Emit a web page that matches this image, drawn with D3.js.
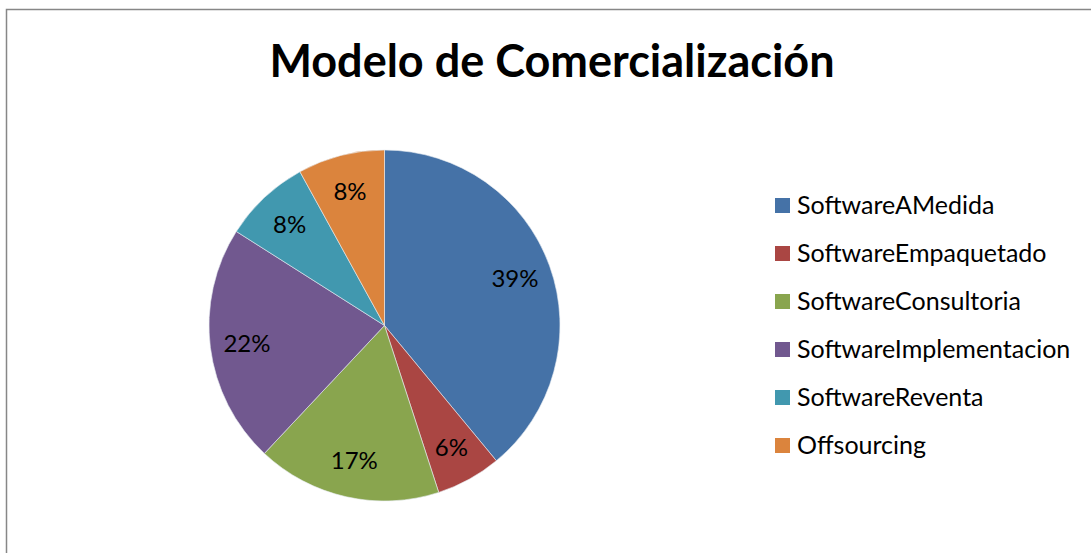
<!DOCTYPE html>
<html>
<head>
    <title>Modelo de Comercialización</title>
    <script src="https://d3js.org/d3.v7.min.js"></script>
    <style>
        html, body {
            margin: 0;
            padding: 0;
            background: #ffffff;
        }
        body {
            width: 1091px;
            height: 553px;
            overflow: hidden;
        }
        text {
            font-family: Lato, "Open Sans", sans-serif;
        }
    </style>
</head>
<body>
<div id="chart"></div>
<script>
    // chart data
    const categories = ['SoftwareAMedida', 'SoftwareEmpaquetado', 'SoftwareConsultoria',
                        'SoftwareImplementacion', 'SoftwareReventa', 'Offsourcing'];
    const percents = [39, 6, 17, 22, 8, 8];
    const colors = ['#4572A7', '#AA4643', '#89A54E', '#71588F', '#4198AF', '#DB843D'];
    const chartTitle = 'Modelo de Comercialización';

    const width = 1091;
    const height = 553;

    const svg = d3.select('#chart')
        .append('svg')
        .attr('width', width)
        .attr('height', height);

    // chart frame (only top and left edges are inside the picture)
    svg.append('path')
        .attr('d', `M6.5,${height} L6.5,9.5 L${width},9.5`)
        .attr('fill', 'none')
        .attr('stroke', '#878787')
        .attr('stroke-width', 1.5);

    svg.append('text')
        .text(chartTitle)
        .attr('x', 552)
        .attr('y', 77)
        .attr('text-anchor', 'middle')
        .style('font-size', '45px')
        .style('font-weight', 'bold')
        .attr('fill', '#000');

    // pie
    const cx = 384.5, cy = 325.5, radius = 175.5;
    const color = d3.scaleOrdinal().domain(categories).range(colors);

    const pie = d3.pie()
        .value(d => d.value)
        .sort(null);

    const data = categories.map((c, i) => ({ name: c, value: percents[i] }));
    const arcs = pie(data);

    const arc = d3.arc().innerRadius(0).outerRadius(radius);
    const labelArc = d3.arc().innerRadius(radius * 0.79).outerRadius(radius * 0.79);

    const g = svg.append('g').attr('transform', `translate(${cx},${cy})`);

    g.selectAll('path.slice')
        .data(arcs)
        .enter()
        .append('path')
        .attr('class', 'slice')
        .attr('d', arc)
        .attr('fill', d => color(d.data.name))
        .attr('stroke', '#e8ecf2')
        .attr('stroke-width', 0.6);

    g.selectAll('text.pct')
        .data(arcs)
        .enter()
        .append('text')
        .attr('class', 'pct')
        .text(d => `${d.data.value}%`)
        .attr('transform', d => `translate(${labelArc.centroid(d)})`)
        .attr('text-anchor', 'middle')
        .attr('dy', '0.36em')
        .style('font-size', '24px')
        .attr('fill', '#000');

    // legend
    const legendY = d3.scalePoint()
        .domain(categories)
        .range([205, 445]);

    const legend = svg.selectAll('g.legend')
        .data(categories)
        .enter()
        .append('g')
        .attr('class', 'legend')
        .attr('transform', d => `translate(775,${legendY(d)})`);

    legend.append('rect')
        .attr('x', 0)
        .attr('y', -7)
        .attr('width', 15)
        .attr('height', 15)
        .attr('fill', d => color(d));

    legend.append('text')
        .text(d => d)
        .attr('x', 22)
        .attr('y', 0)
        .attr('dy', '0.36em')
        .style('font-size', '25px')
        .attr('fill', '#000');
</script>
</body>
</html>
